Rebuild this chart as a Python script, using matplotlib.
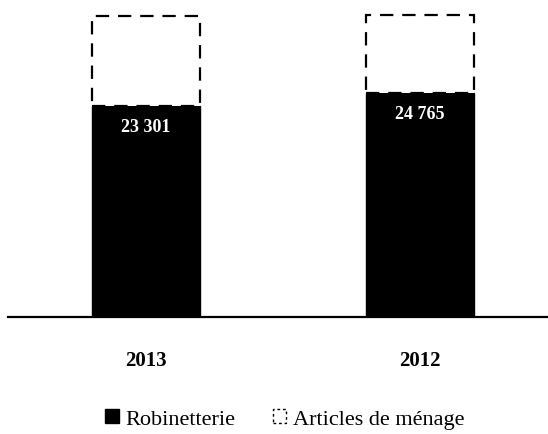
import matplotlib
matplotlib.use("Agg")
import matplotlib.pyplot as plt
from matplotlib.patches import Patch

# data
years = ["2013", "2012"]
robinetterie = [23301, 24765]
articles_menage = [9950, 8600]
value_labels = ["23 301", "24 765"]
legend_labels = ["Robinetterie", "Articles de ménage"]

plt.rcParams['font.family'] = ['Liberation Serif', 'DejaVu Serif']

fig = plt.figure(figsize=(5.48, 4.35), dpi=100)
ax = fig.add_axes([8 / 548, 117 / 435, 540 / 548, 313 / 435])

x = range(len(years))
width = 0.395
ax.bar(x, robinetterie, width=width, color='black', edgecolor='black')
ax.bar(x, articles_menage, width=width, bottom=robinetterie, color='white',
       edgecolor='black', linewidth=1.6, linestyle=(0, (6, 4)))

# value labels inside the black bars
for i, v in enumerate(robinetterie):
    ax.text(i, v - 1300, value_labels[i], color='white', ha='center', va='top',
            fontsize=13, fontweight='bold')

ax.set_xlim(-0.504, 1.467)
ax.set_ylim(0, 34600)
ax.set_xticks(list(x))
ax.set_xticklabels(years, fontsize=15, fontweight='bold')
ax.tick_params(axis='x', length=0, pad=24)
ax.set_yticks([])
for s in ['top', 'left', 'right']:
    ax.spines[s].set_visible(False)
ax.spines['bottom'].set_linewidth(1.6)

handles = [Patch(facecolor='black', edgecolor='black'),
           Patch(facecolor='white', edgecolor='black', linestyle=(0, (2, 2)))]
fig.legend(handles, legend_labels, loc='lower center', ncol=2, frameon=False,
           bbox_to_anchor=(0.52, -0.035), fontsize=16, handlelength=0.6,
           handleheight=0.6, handletextpad=0.3, columnspacing=1.7)

fig.savefig("out.png", dpi=100)
